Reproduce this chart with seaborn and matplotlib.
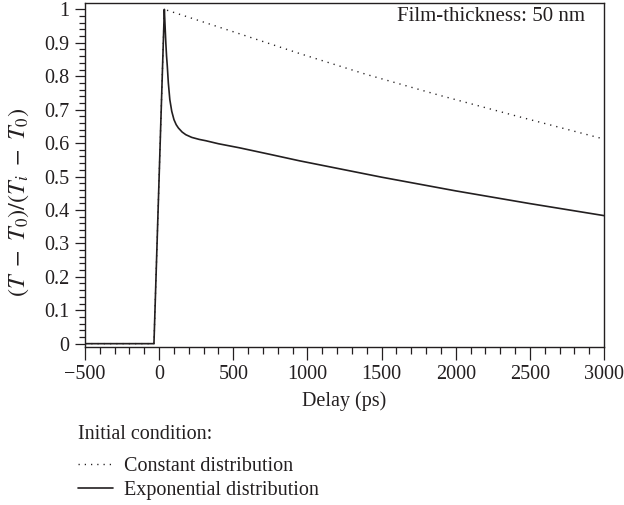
import numpy as np
import pandas as pd
import matplotlib
matplotlib.use("Agg")
import matplotlib.pyplot as plt
from matplotlib.ticker import MultipleLocator, FuncFormatter
import seaborn as sns

# ---- data ----
const_delay = [-500, -35, 35, 500, 946, 1400, 1890, 2400, 3000]
const_value = [0.0, 0.0, 1.0, 0.933, 0.868, 0.805, 0.743, 0.682, 0.612]

exp_delay = [-500, -35, 35, 40, 45, 50, 55, 62, 72, 85, 100, 115, 130, 155,
             180, 220, 270, 315, 400, 540, 750, 946, 1500, 2000, 2500, 3000]
exp_value = [0.0, 0.0, 1.0, 0.95, 0.90, 0.86, 0.83, 0.78, 0.73, 0.695, 0.67,
             0.655, 0.645, 0.633, 0.625, 0.617, 0.611, 0.607, 0.598, 0.586,
             0.566, 0.547, 0.498, 0.457, 0.419, 0.383]

x_ticks = [-500, 0, 500, 1000, 1500, 2000, 2500, 3000]
y_ticks = [0, 0.1, 0.2, 0.3, 0.4, 0.5, 0.6, 0.7, 0.8, 0.9, 1.0]

sns.set_theme(style="ticks")
plt.rcParams["font.family"] = ["Liberation Serif", "DejaVu Serif"]
plt.rcParams["mathtext.fontset"] = "stix"
ink = "#231f20"
fs = 14.5

fig = plt.figure(figsize=(6.24, 5.05), dpi=100)
ax = fig.add_axes([85 / 624, 1 - 347 / 505, 519 / 624, 344 / 505])

df_c = pd.DataFrame({"delay": const_delay, "value": const_value})
df_e = pd.DataFrame({"delay": exp_delay, "value": exp_value})

sns.lineplot(data=df_c, x="delay", y="value", ax=ax, color=ink, lw=1.0,
             linestyle=(0, (0.9, 3.6)), estimator=None, sort=False,
             label="Constant distribution")
sns.lineplot(data=df_e, x="delay", y="value", ax=ax, color=ink, lw=1.2,
             estimator=None, sort=False, label="Exponential distribution")

ax.set_xlim(-500, 3000)
ax.set_ylim(-0.01, 1.019)
ax.set_xticks(x_ticks)
ax.set_yticks(y_ticks)
ax.xaxis.set_minor_locator(MultipleLocator(100))
ax.yaxis.set_minor_locator(MultipleLocator(0.02))
ax.yaxis.set_major_formatter(FuncFormatter(lambda v, p: f"{v:g}"))

for s in ax.spines.values():
    s.set_color(ink)
    s.set_linewidth(1.0)
ax.tick_params(which="both", direction="out", colors=ink, labelsize=fs,
               width=0.9)
ax.tick_params(axis="x", which="major", length=9, pad=4)
ax.tick_params(axis="x", which="minor", length=5)
ax.tick_params(axis="y", which="major", length=7, pad=4)
ax.tick_params(axis="y", which="minor", length=4)

ax.set_xlabel("Delay (ps)", fontsize=fs, color=ink, labelpad=5)
ax.set_ylabel(r"$(T\ -\ T_0)/(T_i\ -\ T_0)$", fontsize=17.5, color=ink)
ax.yaxis.set_label_coords(-0.105, 0.42)

ax.text(0.963, 0.962, "Film-thickness: 50 nm", transform=ax.transAxes,
        ha="right", va="center", fontsize=15, color=ink)

handles, labels = ax.get_legend_handles_labels()
ax.get_legend().remove()
leg = fig.legend(handles, labels, title="Initial condition:",
                 loc="upper left", bbox_to_anchor=(70 / 624, 1 - 417 / 505),
                 frameon=False, fontsize=fs, title_fontsize=fs,
                 handlelength=1.75, handletextpad=0.55, labelspacing=0.28,
                 borderaxespad=0, alignment="left")
leg._legend_box.sep = 9
for t in leg.get_texts():
    t.set_color(ink)
leg.get_title().set_color(ink)

fig.savefig("out.png", dpi=100)
